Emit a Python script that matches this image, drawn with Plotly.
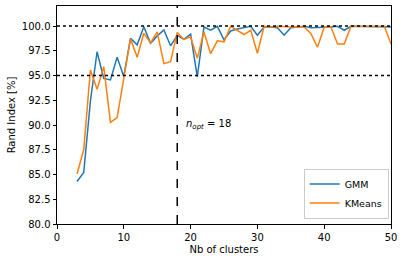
import plotly.graph_objects as go

n_clusters = list(range(3, 51))
gmm = [84.3, 85.2, 92.4, 97.4, 94.7, 94.55, 96.85, 94.9, 98.75, 98.1, 99.93, 98.25, 99.0, 99.6, 98.0, 99.05,
       98.64, 99.17, 94.87, 99.9, 99.57, 99.97, 98.6, 99.5, 99.7, 99.83, 99.97, 99.07, 99.9, 99.9,
       99.83, 99.07, 99.83, 99.9, 99.97, 99.83, 99.83, 99.83, 99.9, 99.97, 99.57, 99.97, 99.97, 99.97,
       99.97, 99.97, 99.97, 99.9]
kmeans = [85.05, 87.5, 95.55, 93.6, 95.9, 90.27, 90.74, 94.6, 98.7, 96.84, 99.26, 98.3, 99.4, 96.2, 96.4, 99.35,
          98.64, 98.9, 96.75, 99.4, 97.2, 98.5, 98.4, 99.97, 99.57, 99.14, 99.57, 97.25, 99.97, 99.9,
          99.97, 99.9, 99.9, 99.9, 99.9, 99.24, 97.85, 99.9, 99.9, 98.18, 98.18, 99.97, 99.97, 99.97,
          99.97, 99.97, 99.97, 98.18]
n_opt = 18
ref_levels = [100, 95]
x_ticks = [0, 10, 20, 30, 40, 50]
y_ticks = [80.0, 82.5, 85.0, 87.5, 90.0, 92.5, 95.0, 97.5, 100.0]

fig = go.Figure()
fig.add_trace(go.Scatter(x=n_clusters, y=gmm, mode="lines", name="GMM",
                         line=dict(color="#1f77b4", width=1.5)))
fig.add_trace(go.Scatter(x=n_clusters, y=kmeans, mode="lines", name="KMeans",
                         line=dict(color="#ff7f0e", width=1.5)))

for lv in ref_levels:
    fig.add_shape(type="line", xref="paper", yref="y", x0=0, x1=1, y0=lv, y1=lv,
                  line=dict(color="black", width=1.5, dash="dot"))
fig.add_shape(type="line", xref="x", yref="paper", x0=n_opt, x1=n_opt, y0=0, y1=1,
              line=dict(color="black", width=1.5, dash="dash"))

fig.add_annotation(x=n_opt + 1, y=90.1, xref="x", yref="y", showarrow=False,
                   text="<i>n</i><sub><i>opt</i></sub> = " + str(n_opt),
                   xanchor="left", yanchor="middle",
                   font=dict(family="DejaVu Sans", size=10, color="black"))

axis_common = dict(showline=True, linecolor="black", linewidth=1, mirror=True,
                   ticks="outside", ticklen=3.5, tickwidth=1, tickcolor="black",
                   showgrid=False, zeroline=False, automargin=False,
                   tickfont=dict(family="DejaVu Sans", size=10, color="black"))

fig.update_xaxes(range=[0, 50], tickvals=x_ticks, title=dict(text="Nb of clusters", standoff=4,
                 font=dict(family="DejaVu Sans", size=10, color="black")), **axis_common)
fig.update_yaxes(range=[80, 102.02], tickvals=y_ticks, tickformat=".1f",
                 title=dict(text="Rand Index [%]", standoff=4,
                            font=dict(family="DejaVu Sans", size=10, color="black")), **axis_common)

fig.update_layout(
    width=404, height=262,
    margin=dict(l=57, r=13, t=6, b=38),
    plot_bgcolor="white", paper_bgcolor="white",
    showlegend=True,
    legend=dict(x=0.993, y=0.025, xanchor="right", yanchor="bottom",
                bgcolor="rgba(255,255,255,0.8)", bordercolor="#cccccc", borderwidth=1,
                font=dict(family="DejaVu Sans", size=9.5, color="black"),
                itemwidth=30, tracegroupgap=0),
    font=dict(family="DejaVu Sans", size=10, color="black"),
)

fig.write_html("out.html", config={"displayModeBar": False},
               post_script="document.body.style.margin='0';document.body.style.padding='0';")
